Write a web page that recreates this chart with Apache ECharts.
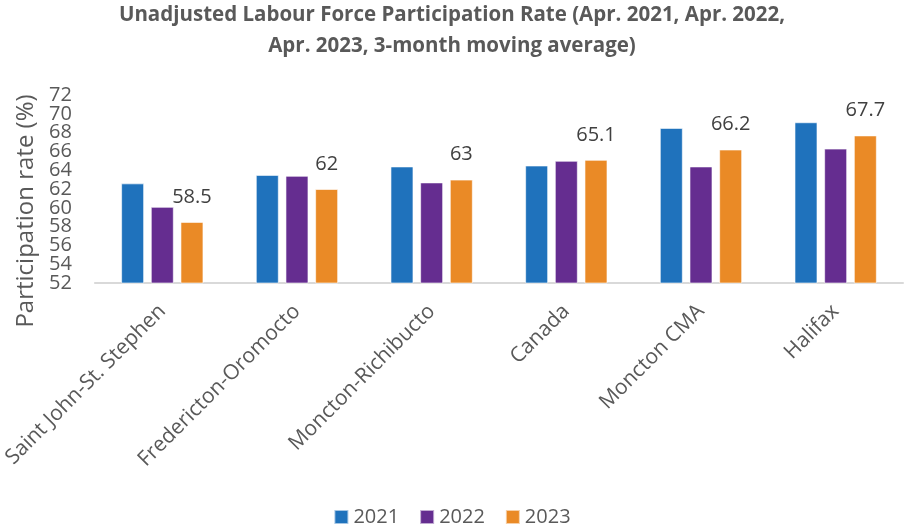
<!DOCTYPE html>
<html>
<head>
<meta charset="utf-8">
<script src="https://cdn.jsdelivr.net/npm/echarts@6/dist/echarts.min.js"></script>
<style>
  html, body { margin: 0; padding: 0; background: #ffffff; }
  #chart { width: 904px; height: 527px; }
</style>
</head>
<body>
<div id="chart"></div>
<script>
// Regions compared
const categories = ['Saint John-St. Stephen', 'Fredericton-Oromocto', 'Moncton-Richibucto', 'Canada', 'Moncton CMA', 'Halifax'];
// Participation rate (%), April 3-month moving average
const years = ['2021', '2022', '2023'];
const rate2021 = [62.6, 63.5, 64.4, 64.5, 68.5, 69.1];
const rate2022 = [60.1, 63.4, 62.7, 65.0, 64.4, 66.3];
const rate2023 = [58.5, 62, 63, 65.1, 66.2, 67.7];
// Value axis range and ticks
const yMin = 52, yMax = 72, yStep = 2;

const colors = ['#1f72bc', '#652d90', '#ea8a26'];
const font = 'Open Sans';
const textGrey = '#595959';

const chart = echarts.init(document.getElementById('chart'));

function barSeries(name, data, color, withLabel) {
  return {
    name: name,
    type: 'bar',
    yAxisIndex: 0,
    data: data,
    barWidth: 23,
    barGap: '29%',
    itemStyle: { color: color, borderColor: 'rgba(255,255,255,0.6)', borderWidth: 1 },
    label: withLabel ? {
      show: true,
      position: 'top',
      distance: 15,
      fontFamily: font,
      fontSize: 20,
      color: '#404040'
    } : { show: false },
    emphasis: { disabled: true }
  };
}

const tickLabelStyle = { fontFamily: font, fontSize: 20, color: textGrey, margin: 23 };

chart.setOption({
  animation: false,
  backgroundColor: '#ffffff',
  title: {
    text: 'Unadjusted Labour Force Participation Rate (Apr. 2021, Apr. 2022,\nApr. 2023, 3-month moving average)',
    left: 'center',
    top: -5,
    textStyle: {
      fontFamily: font,
      fontWeight: 'bold',
      fontSize: 20.5,
      lineHeight: 31,
      color: textGrey
    }
  },
  legend: {
    data: years,
    top: 502,
    left: 'center',
    itemWidth: 14,
    itemHeight: 14,
    itemGap: 20,
    icon: 'rect',
    textStyle: { fontFamily: font, fontSize: 20, color: textGrey }
  },
  grid: { left: 93, right: 1, top: 95, bottom: 244 },
  xAxis: {
    type: 'category',
    data: categories,
    axisTick: { show: false },
    axisLine: { lineStyle: { color: '#d9d9d9', width: 2 } },
    axisLabel: {
      rotate: 45,
      interval: 0,
      margin: 25,
      fontFamily: font,
      fontSize: 21,
      color: textGrey
    }
  },
  yAxis: [
    {
      // main value axis: inner tick labels
      type: 'value',
      position: 'left',
      min: yMin,
      max: yMax,
      interval: yStep,
      name: 'Participation rate (%)',
      nameLocation: 'middle',
      nameGap: 57,
      nameTextStyle: { fontFamily: font, fontSize: 24, color: textGrey, padding: [0, 44, 0, 0] },
      axisLine: { show: false },
      axisTick: { show: false },
      splitLine: { show: false },
      axisLabel: Object.assign({ showMinLabel: false, showMaxLabel: false }, tickLabelStyle)
    },
    {
      // companion axis carrying the end labels of the same scale
      type: 'value',
      position: 'left',
      min: yMin,
      max: yMax,
      interval: yStep,
      axisLine: { show: false },
      axisTick: { show: false },
      splitLine: { show: false },
      axisLabel: Object.assign({
        showMinLabel: true,
        showMaxLabel: true,
        formatter: function (v) { return (v === yMin || v === yMax) ? String(v) : ''; }
      }, tickLabelStyle)
    }
  ],
  series: [
    barSeries(years[0], rate2021, colors[0], false),
    barSeries(years[1], rate2022, colors[1], false),
    barSeries(years[2], rate2023, colors[2], true)
  ]
});
</script>
</body>
</html>
